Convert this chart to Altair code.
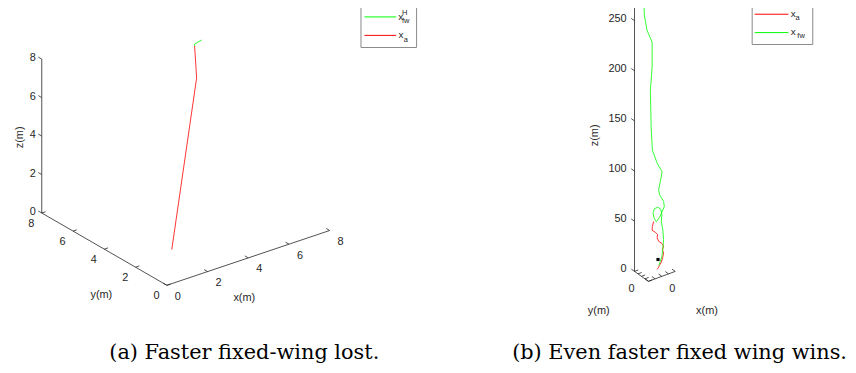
import altair as alt
import pandas as pd

# ---------------- data ----------------
# panel (a): axes 0..8 m on every axis
a_ticks = [0, 2, 4, 6, 8]
a_red_x = [2.07, 5.35, 5.45]
a_red_y = [2.38, 5.06, 5.32]
a_red_z = [0.0, 6.5, 8.0]
a_grn_x = [5.45, 5.55, 5.77, 5.99]
a_grn_y = [5.32, 5.45, 5.52, 5.57]
a_grn_z = [8.0, 8.0, 8.0, 8.0]

# panel (b)
b_z_ticks = [0, 50, 100, 150, 200, 250]
b_xy_ticks = [-20, -10, 0, 10, 20]
b_grn_x = [-17.0, -16.6, -15.6, -11.6, -4.1, -4.1, -6.7, -5.6, -3.7, 3.3, 10.7,
           9.2, 5.6, 7.1, 13.0, 14.1, 10.7, 6.7, 2.2, -1.5, -2.7, -0.7, 4.4, 8.9,
           10.4, 9.6, 11.8, 13.0, 11.8, 10.4, 8.1, 5.9]
b_grn_y = [0.0, 0.0, 0.0, 0.0, 0.0, 0.0, 0.0, 0.0, 0.0, 0.0, 0.0,
           0.0, 0.0, 0.0, 0.0, 0.0, 0.0, 0.0, 0.0, 0.0, 0.0, 0.0, 0.0, 0.0,
           0.0, 0.0, 0.0, 0.0, 0.0, 0.0, 0.0, 0.0]
b_grn_z = [294.0, 274.0, 258.8, 243.0, 229.5, 204.7, 182.2, 145.5, 121.9, 107.3,
           96.8, 91.0, 80.0, 74.6, 66.5, 61.3, 56.8, 51.9, 49.0, 54.0, 59.2, 62.7,
           62.9, 59.8, 54.0, 47.2, 38.7, 28.5, 18.8, 12.3, 7.9, 4.5]
b_red_x = [3.3, 5.2, 6.7, 9.2, 11.6, 13.0, 11.1, 13.0, 10.7, 5.6, 3.3, 4.1, 0.7,
           -4.1, -3.7, -1.8]
b_red_y = [0.0, 0.0, 0.0, 0.0, 0.0, 0.0, 0.0, 0.0, 0.0, 0.0, 0.0, 0.0, 0.0,
           0.0, 0.0, 0.0]
b_red_z = [1.2, 2.4, 4.3, 6.3, 10.7, 15.3, 19.0, 21.8, 25.1, 28.7, 32.6, 35.7,
           38.8, 42.0, 45.8, 50.3]
b_target = (4.7, 0.0, 10.7)

captions = ["(a) Faster fixed-wing lost.", "(b) Even faster fixed wing wins."]
axis_titles = ["x(m)", "y(m)", "z(m)"]

RED = "#ff0000"
GREEN = "#00ff00"
AXC = "#262626"

# ---------------- projections (view geometry) ----------------
PA = dict(o=(168, 286), ex=(20.5, -6.9), ey=(-15.75, -9.1), ez=(0, -19.375),
          xr=(0, 8), yr=(0, 8), zr=(0, 8))
PB = dict(o=(659.5, 272), ex=(0.675, -0.25), ey=(-0.35, -0.25), ez=(0, -1.01),
          xr=(-20, 20), yr=(-20, 20), zr=(0, 300))


def proj(P, x, y, z):
    return (P["o"][0] + x * P["ex"][0] + y * P["ey"][0] + z * P["ez"][0],
            P["o"][1] + x * P["ex"][1] + y * P["ey"][1] + z * P["ez"][1])


def unit(v, L):
    n = (v[0] ** 2 + v[1] ** 2) ** 0.5
    return (v[0] / n * L, v[1] / n * L)


segs = []
ticklab_c = []
ticklab_r = []


def add_axes(P, xt, yt, zt, xlab, ylab, zlab, loff_x, loff_y, zlab_dx):
    x0, x1 = P["xr"]
    y0, y1 = P["yr"]
    z0, z1 = P["zr"]
    for a, b in [((x0, y0, z0), (x1, y0, z0)), ((x0, y0, z0), (x0, y1, z0)),
                 ((x0, y1, z0), (x0, y1, z1))]:
        p, q = proj(P, *a), proj(P, *b)
        segs.append(dict(px=p[0], py=p[1], px2=q[0], py2=q[1]))
    ty = unit(P["ey"], 4)
    tx = unit(P["ex"], 4)
    for v in xt:
        p = proj(P, v, y0, z0)
        segs.append(dict(px=p[0], py=p[1], px2=p[0] + ty[0], py2=p[1] + ty[1]))
        if v in xlab:
            ticklab_c.append(dict(px=p[0] + loff_x[0], py=p[1] + loff_x[1], t=str(v)))
    for v in yt:
        p = proj(P, x0, v, z0)
        segs.append(dict(px=p[0], py=p[1], px2=p[0] + tx[0], py2=p[1] + tx[1]))
        if v in ylab:
            ticklab_c.append(dict(px=p[0] + loff_y[0], py=p[1] + loff_y[1], t=str(v)))
    for v in zt:
        p = proj(P, x0, y1, v)
        segs.append(dict(px=p[0], py=p[1], px2=p[0] + ty[0], py2=p[1] + ty[1]))
        if v in zlab:
            ticklab_r.append(dict(px=p[0] + zlab_dx[0], py=p[1] + zlab_dx[1], t=str(v)))


add_axes(PA, a_ticks, a_ticks, a_ticks, a_ticks, a_ticks, a_ticks,
         (11, 11.5), (-10.5, 11), (-6, -1))
add_axes(PB, b_xy_ticks, b_xy_ticks, b_z_ticks, [0], [0], b_z_ticks,
         (10.5, 13), (-10, 13), (-8, -2))

lines = []


def add_line(P, xs, ys, zs, name, color):
    for i, (x, y, z) in enumerate(zip(xs, ys, zs)):
        p = proj(P, x, y, z)
        lines.append(dict(px=p[0], py=p[1], s=name, i=i, c=color))


add_line(PA, a_red_x, a_red_y, a_red_z, "a_red", RED)
add_line(PA, a_grn_x, a_grn_y, a_grn_z, "a_grn", GREEN)
add_line(PB, b_red_x, b_red_y, b_red_z, "b_red", RED)
add_line(PB, b_grn_x, b_grn_y, b_grn_z, "b_grn", GREEN)

tp = proj(PB, *b_target)
pts = pd.DataFrame([dict(px=tp[0], py=tp[1])])

titles = pd.DataFrame([
    dict(px=246, py=299, t=axis_titles[0]),
    dict(px=102, py=296, t=axis_titles[1]),
    dict(px=712, py=312, t=axis_titles[0]),
    dict(px=603, py=312, t=axis_titles[1]),
])
ztitles = pd.DataFrame([
    dict(px=20, py=137, t=axis_titles[2]),
    dict(px=599, py=135, t=axis_titles[2]),
])

# legends
boxes = pd.DataFrame([
    dict(px=363.5, py=4.5, px2=419.5, py2=46.5),
    dict(px=757.5, py=3.5, px2=818.5, py2=43.5),
])
leg_lines = pd.DataFrame([
    dict(px=367, py=15.7, px2=399, py2=15.7, c=GREEN),
    dict(px=367, py=34.3, px2=399, py2=34.3, c=RED),
    dict(px=760, py=13.0, px2=794, py2=13.0, c=RED),
    dict(px=760, py=31.5, px2=794, py2=31.5, c=GREEN),
])
leg_main = pd.DataFrame([
    dict(px=403.5, py=16, t="x"), dict(px=403.7, py=33.5, t="x"),
    dict(px=798.8, py=12.6, t="x"), dict(px=798.8, py=31.0, t="x"),
])
leg_small = pd.DataFrame([
    dict(px=407.5, py=11.5, t="H"), dict(px=408.5, py=19.5, t="fw"),
    dict(px=408.7, py=38.5, t="a"),
    dict(px=803.3, py=17.3, t="a"), dict(px=806.7, py=35.3, t="fw"),
])
cap = pd.DataFrame([dict(px=110, py=354, t=captions[0])])
cap2 = pd.DataFrame([dict(px=853, py=354, t=captions[1])])

XS = alt.Scale(domain=[8, 854], nice=False, zero=False)
YS = alt.Scale(domain=[8, 365], nice=False, zero=False, reverse=True)


def enc(**kw):
    d = dict(x=alt.X("px:Q", scale=XS, axis=None),
             y=alt.Y("py:Q", scale=YS, axis=None))
    d.update(kw)
    return d


segdf = pd.DataFrame(segs)
axes_layer = alt.Chart(segdf).mark_rule(color=AXC, strokeWidth=0.8).encode(
    **enc(x2="px2:Q", y2="py2:Q"))

traj = alt.Chart(pd.DataFrame(lines)).mark_line(strokeWidth=0.8).encode(
    **enc(detail="s:N", order="i:Q", color=alt.Color("c:N", scale=None)))

target = alt.Chart(pts).mark_square(color="black", size=10, opacity=1).encode(**enc())

font = "Liberation Sans"
tl_c = alt.Chart(pd.DataFrame(ticklab_c)).mark_text(
    font=font, fontSize=11, color=AXC, align="center", baseline="middle").encode(
    **enc(text="t:N"))
tl_r = alt.Chart(pd.DataFrame(ticklab_r)).mark_text(
    font=font, fontSize=11, color=AXC, align="right", baseline="middle").encode(
    **enc(text="t:N"))
tt = alt.Chart(titles).mark_text(
    font=font, fontSize=11, color=AXC, align="center", baseline="middle").encode(
    **enc(text="t:N"))
zt = alt.Chart(ztitles).mark_text(
    font=font, fontSize=11, color=AXC, align="center", baseline="middle",
    angle=270).encode(**enc(text="t:N"))

box_layer = alt.Chart(boxes).mark_rect(fill="white", stroke="#8a8a8a",
                                       strokeWidth=1).encode(
    **enc(x2="px2:Q", y2="py2:Q"))
legl = alt.Chart(leg_lines).mark_rule(strokeWidth=1).encode(
    **enc(x2="px2:Q", y2="py2:Q", color=alt.Color("c:N", scale=None)))
legm = alt.Chart(leg_main).mark_text(
    font=font, fontSize=10, color=AXC, align="center", baseline="middle").encode(
    **enc(text="t:N"))
legs = alt.Chart(leg_small).mark_text(
    font=font, fontSize=7.5, color=AXC, align="center", baseline="middle").encode(
    **enc(text="t:N"))

serif = "DejaVu Serif"
capl = alt.Chart(cap).mark_text(
    font=serif, fontSize=21, color="black", align="left", baseline="middle").encode(
    **enc(text="t:N"))
capr = alt.Chart(cap2).mark_text(
    font=serif, fontSize=21, color="black", align="right", baseline="middle").encode(
    **enc(text="t:N"))

chart = alt.layer(
    axes_layer, traj, target, tl_c, tl_r, tt, zt,
    box_layer, legl, legm, legs, capl, capr
).properties(
    width=846, height=357,
    autosize=alt.AutoSizeParams(type="none"),
    padding=0,
).configure_view(stroke=None)

chart.save("out.html", embed_options={"renderer": "svg", "actions": False})
